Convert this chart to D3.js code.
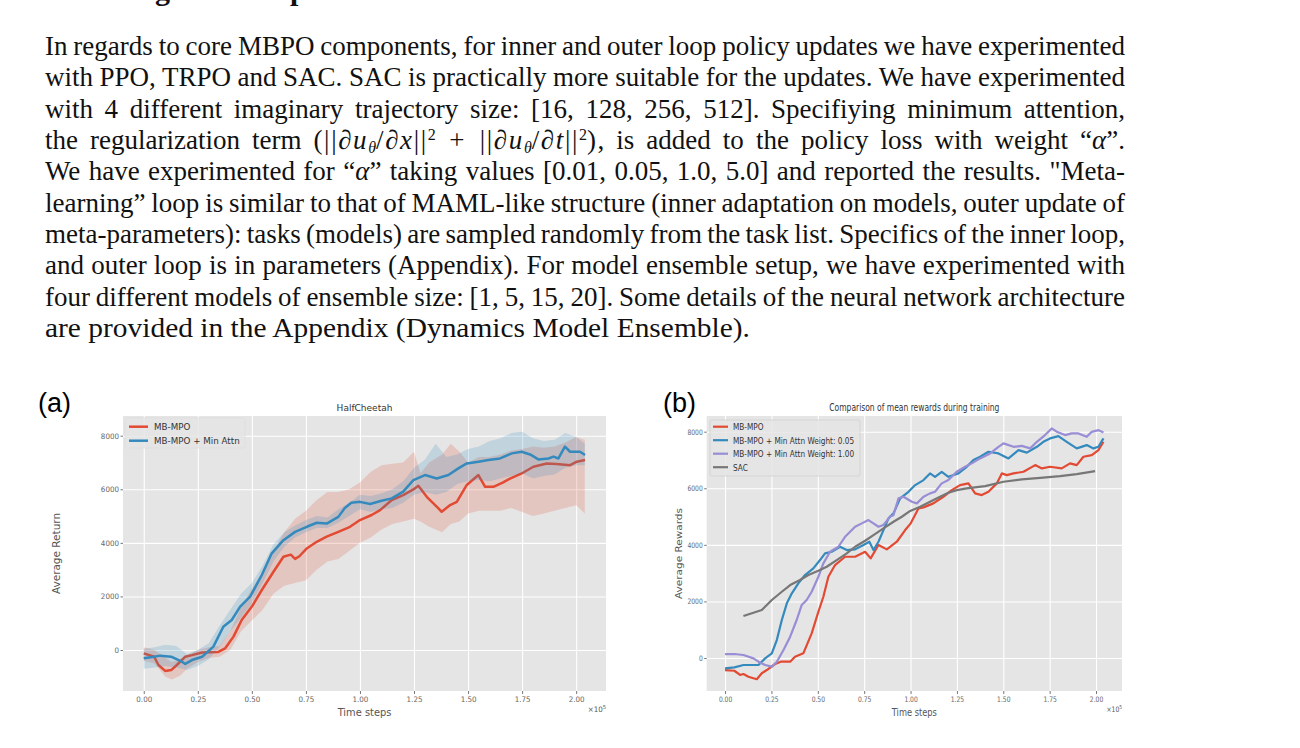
<!DOCTYPE html>
<html>
<head>
<meta charset="utf-8">
<script src="https://cdn.jsdelivr.net/npm/d3@7"></script>
<style>
  body { margin: 0; background: #fff; }
  svg { display: block; }
  .chart text { font-family: "DejaVu Sans", sans-serif; }
</style>
</head>
<body>
<svg id="page" width="1300" height="748"></svg>
<script>
// ---------- data ----------
var xTickVals = [0, 0.25, 0.5, 0.75, 1.0, 1.25, 1.5, 1.75, 2.0];
var yTickVals = [0, 2000, 4000, 6000, 8000];

// (a) HalfCheetah
var aRedX = [0, 0.048, 0.068, 0.099, 0.127, 0.153, 0.192, 0.223, 0.27, 0.345, 0.376, 0.415, 0.453, 0.5, 0.546, 0.6, 0.646, 0.68, 0.7, 0.72, 0.754, 0.8, 0.846, 0.9, 0.954, 1.0, 1.054, 1.093, 1.147, 1.2, 1.247, 1.27, 1.309, 1.363, 1.378, 1.417, 1.448, 1.494, 1.548, 1.579, 1.617, 1.66, 1.694, 1.748, 1.802, 1.864, 1.91, 1.972, 2.003, 2.041];
var aRedY = [-125, -250, -560, -780, -750, -560, -250, -190, -90, -70, 60, 500, 1120, 1620, 2240, 2920, 3480, 3560, 3400, 3500, 3790, 4040, 4230, 4410, 4600, 4850, 5040, 5220, 5600, 5780, 5995, 6130, 5720, 5290, 5160, 5410, 5530, 6160, 6530, 6090, 6090, 6250, 6400, 6590, 6840, 6965, 6940, 6900, 7030, 7090];
var aBlueX = [0, 0.048, 0.076, 0.127, 0.176, 0.192, 0.223, 0.27, 0.322, 0.368, 0.407, 0.446, 0.492, 0.546, 0.592, 0.646, 0.7, 0.754, 0.8, 0.846, 0.9, 0.93, 0.96, 1.0, 1.047, 1.1, 1.147, 1.2, 1.247, 1.301, 1.355, 1.409, 1.455, 1.494, 1.548, 1.594, 1.648, 1.702, 1.748, 1.787, 1.825, 1.872, 1.895, 1.918, 1.948, 1.972, 2.018, 2.041];
var aBlueY = [-310, -250, -210, -250, -435, -520, -375, -250, 125, 870, 1120, 1620, 1990, 2800, 3610, 4100, 4410, 4600, 4750, 4720, 4970, 5300, 5500, 5530, 5450, 5570, 5660, 5910, 6340, 6530, 6400, 6530, 6780, 6965, 7030, 7090, 7150, 7340, 7400, 7300, 7115, 7150, 7220, 7150, 7590, 7400, 7400, 7280];
var aRedBandX = [0, 0.05, 0.1, 0.13, 0.17, 0.2, 0.25, 0.3, 0.35, 0.4, 0.45, 0.5, 0.55, 0.6, 0.65, 0.7, 0.75, 0.8, 0.85, 0.9, 0.95, 1.0, 1.05, 1.1, 1.15, 1.2, 1.25, 1.28, 1.32, 1.38, 1.42, 1.46, 1.5, 1.55, 1.6, 1.65, 1.7, 1.75, 1.8, 1.85, 1.9, 1.95, 2.0, 2.04];
var aRedLo = [-400, -500, -1000, -1100, -950, -700, -450, -300, -250, 0, 700, 1100, 1500, 2100, 2400, 2500, 2600, 3000, 3300, 3400, 3700, 4000, 4200, 4500, 4700, 4800, 4900, 4800, 4600, 4400, 4700, 4800, 5100, 5200, 5200, 5200, 5300, 5150, 5000, 5100, 5200, 5300, 5400, 5100];
var aRedHi = [100, 0, -300, -450, -350, -200, 0, 100, 150, 700, 1600, 2300, 2900, 3700, 4400, 4900, 5200, 5600, 5900, 5900, 6000, 6250, 6650, 6900, 6950, 7000, 7400, 6600, 7000, 7300, 7700, 7400, 7000, 7200, 7200, 7300, 7450, 7500, 7600, 7550, 7600, 7750, 7950, 7850];
var aBlueBandX = [0, 0.05, 0.1, 0.15, 0.2, 0.25, 0.3, 0.35, 0.4, 0.45, 0.5, 0.55, 0.6, 0.65, 0.7, 0.75, 0.8, 0.85, 0.9, 0.95, 1.0, 1.05, 1.1, 1.15, 1.2, 1.25, 1.3, 1.35, 1.4, 1.45, 1.5, 1.55, 1.6, 1.65, 1.7, 1.75, 1.8, 1.85, 1.9, 1.95, 2.0, 2.04];
var aBlueLo = [-700, -650, -600, -650, -750, -600, -350, 100, 700, 1200, 1750, 2500, 3300, 3850, 4200, 4400, 4550, 4550, 4750, 5000, 5250, 5150, 5250, 5300, 5500, 5800, 5900, 5800, 5900, 6200, 6300, 6350, 6300, 6400, 6500, 6600, 6400, 6500, 6550, 6800, 6900, 6900];
var aBlueHi = [50, 100, 200, 150, -150, 0, 250, 900, 1500, 2100, 2500, 3150, 3950, 4400, 4650, 4850, 5000, 4950, 5250, 5500, 5800, 5750, 5850, 6000, 6300, 6800, 7100, 7700, 7200, 7300, 7500, 7600, 7800, 7900, 8100, 8150, 7900, 7800, 7850, 8100, 7950, 7700];
var aNames = ["MB-MPO", "MB-MPO + Min Attn"];

// (b) Comparison of mean rewards during training
var bRedX = [0, 0.05, 0.081, 0.099, 0.126, 0.171, 0.198, 0.225, 0.27, 0.3, 0.351, 0.377, 0.422, 0.467, 0.503, 0.53, 0.557, 0.593, 0.647, 0.701, 0.755, 0.785, 0.827, 0.872, 0.926, 0.971, 1.001, 1.043, 1.07, 1.123, 1.177, 1.222, 1.267, 1.312, 1.348, 1.384, 1.42, 1.465, 1.492, 1.519, 1.555, 1.609, 1.672, 1.708, 1.752, 1.815, 1.86, 1.896, 1.932, 1.977, 2.013, 2.04];
var bRedY = [-425, -450, -600, -565, -660, -750, -540, -425, -212, -130, -130, 46, 165, 873, 1636, 2166, 2873, 3286, 3580, 3580, 3756, 3522, 3993, 3840, 4110, 4523, 4760, 5290, 5325, 5466, 5700, 5936, 6113, 6173, 5820, 5760, 5876, 6173, 6526, 6466, 6526, 6583, 6820, 6703, 6760, 6703, 6880, 6820, 7113, 7173, 7350, 7643];
var bBlueX = [0, 0.05, 0.099, 0.153, 0.18, 0.216, 0.252, 0.279, 0.306, 0.333, 0.36, 0.395, 0.431, 0.476, 0.512, 0.539, 0.575, 0.62, 0.656, 0.701, 0.746, 0.778, 0.8, 0.827, 0.854, 0.881, 0.908, 0.944, 0.989, 1.025, 1.07, 1.105, 1.132, 1.168, 1.204, 1.258, 1.303, 1.339, 1.375, 1.42, 1.474, 1.528, 1.582, 1.627, 1.681, 1.716, 1.752, 1.797, 1.842, 1.896, 1.95, 1.986, 2.013, 2.04];
var bBlueY = [-365, -330, -247, -247, -247, -12, 165, 636, 1343, 1932, 2286, 2640, 2933, 3170, 3463, 3700, 3756, 3933, 3816, 3840, 3993, 4110, 3816, 4110, 4523, 4936, 5113, 5643, 5876, 6113, 6290, 6526, 6406, 6583, 6406, 6526, 6760, 6996, 7113, 7290, 7232, 7056, 7350, 7260, 7466, 7643, 7763, 7845, 7643, 7410, 7526, 7410, 7466, 7763];
var bPurpleX = [0, 0.05, 0.099, 0.153, 0.18, 0.216, 0.252, 0.279, 0.315, 0.351, 0.386, 0.413, 0.44, 0.467, 0.503, 0.53, 0.566, 0.611, 0.647, 0.701, 0.737, 0.773, 0.8, 0.827, 0.854, 0.89, 0.908, 0.935, 0.962, 1.007, 1.034, 1.07, 1.105, 1.132, 1.168, 1.204, 1.249, 1.294, 1.33, 1.375, 1.429, 1.474, 1.501, 1.555, 1.6, 1.645, 1.681, 1.725, 1.761, 1.788, 1.833, 1.869, 1.905, 1.95, 1.977, 2.013, 2.04];
var bPurpleY = [141, 141, 106, -12, -130, -247, -306, -130, 283, 753, 1343, 1873, 2050, 2343, 2873, 3346, 3756, 3933, 4286, 4640, 4760, 4876, 4760, 4640, 4700, 5000, 5050, 5643, 5700, 5523, 5466, 5700, 5820, 5876, 6173, 6290, 6583, 6760, 6880, 7056, 7232, 7466, 7586, 7466, 7500, 7410, 7643, 7880, 8116, 8000, 7880, 7940, 7940, 7820, 7996, 8056, 7970];
var bSacX = [0.099, 0.153, 0.198, 0.252, 0.306, 0.351, 0.404, 0.449, 0.503, 0.548, 0.602, 0.656, 0.701, 0.755, 0.8, 0.854, 0.908, 0.953, 0.998, 1.052, 1.105, 1.159, 1.204, 1.249, 1.303, 1.402, 1.501, 1.6, 1.699, 1.806, 1.896, 1.995];
var bSacY = [1484, 1600, 1696, 2050, 2343, 2580, 2756, 2933, 3085, 3226, 3463, 3700, 3933, 4145, 4346, 4583, 4816, 4993, 5200, 5346, 5523, 5700, 5841, 5936, 5996, 6078, 6230, 6314, 6371, 6430, 6501, 6607];
var bNames = ["MB-MPO", "MB-MPO + Min Attn Weight: 0.05", "MB-MPO + Min Attn Weight: 1.00", "SAC"];

// paragraph lines (segments: plain string, or {t, it, sub, sup, m})
var paraLines = [
    ["In regards to core MBPO components, for inner and outer loop policy updates we have experimented"],
    ["with PPO, TRPO and SAC. SAC is practically more suitable for the updates. We have experimented"],
    ["with 4 different imaginary trajectory size: [16, 128, 256, 512]. Specifiying minimum attention,"],
    ["the regularization term ", {t: "(||\u2202", m: 1}, {t: "u", it: 1, m: 1}, {t: "\u03b8", it: 1, sub: 1}, {t: "/\u2202", m: 1}, {t: "x", it: 1, m: 1}, {t: "||", m: 1}, {t: "2", sup: 1},
        {t: " + ||\u2202", m: 1}, {t: "u", it: 1, m: 1}, {t: "\u03b8", it: 1, sub: 1}, {t: "/\u2202", m: 1}, {t: "t", it: 1, m: 1}, {t: "||", m: 1}, {t: "2", sup: 1},
        {t: ")", m: 1}, ", is added to the policy loss with weight \u201c", {t: "\u03b1", it: 1}, "\u201d."],
    ["We have experimented for \u201c", {t: "\u03b1", it: 1}, "\u201d taking values [0.01, 0.05, 1.0, 5.0] and reported the results. \"Meta-"],
    ["learning\u201d loop is similar to that of MAML-like structure (inner adaptation on models, outer update of"],
    ["meta-parameters): tasks (models) are sampled randomly from the task list. Specifics of the inner loop,"],
    ["and outer loop is in parameters (Appendix). For model ensemble setup, we have experimented with"],
    ["four different models of ensemble size: [1, 5, 15, 20]. Some details of the neural network architecture"],
    ["are provided in the Appendix (Dynamics Model Ensemble)."]
];

var colors = { red: "#E24A33", blue: "#348ABD", purple: "#988ED5", gray: "#777777" };

var svg = d3.select("#page");

// ---------- paragraph ----------
var para = svg.append("g")
    .attr("font-family", "'Liberation Serif', 'Times New Roman', serif")
    .style("font-size", "27px")
    .attr("fill", "#111");

var lineEls = paraLines.map(function (segs, i) {
    var t = para.append("text").attr("x", 45).attr("y", 55 + i * 31.33);
    var shift = 0;
    segs.forEach(function (s) {
        var seg = typeof s === "string" ? { t: s } : s;
        var target = seg.sub ? 4 : (seg.sup ? -9 : 0);
        var ts = t.append("tspan").attr("dy", target - shift).text(seg.t);
        shift = target;
        if (seg.it) ts.style("font-style", "italic");
        if (seg.m) ts.style("letter-spacing", "1.6px");
        if (seg.sub || seg.sup) ts.style("font-size", "16px");
    });
    return t;
});

// justify full lines to 1080px, last line to about 705px
lineEls.forEach(function (t, i) {
    var w = t.node().getComputedTextLength();
    if (i === lineEls.length - 1) {
        var k = Math.max(0.92, Math.min(1.1, 705 / w));
        t.attr("transform", "translate(45,0) scale(" + k + ",1) translate(-45,0)");
        return;
    }
    var n = (t.node().textContent.match(/ /g) || []).length;
    var ws = (1080 - w) / n;
    if (ws < -2) {
        ws = -2;
        var k2 = 1080 / (w + ws * n);
        t.attr("transform", "translate(45,0) scale(" + k2 + ",1) translate(-45,0)");
    }
    t.style("word-spacing", ws + "px");
});

// cut-off section heading at the very top (only descenders visible)
var head = para.append("text").attr("y", -0.5)
    .style("font-weight", "bold").style("font-size", "30px")
    .text("Training and Setup");
head.attr("x", 155 - head.node().getSubStringLength(0, 7));

// ---------- charts ----------
function txt(g, x, y, str, size, sx, anchor, fill, rot) {
    return g.append("text")
        .attr("transform", "translate(" + x + "," + y + ") scale(" + sx + ",1)" + (rot ? " rotate(-90)" : ""))
        .attr("text-anchor", anchor)
        .style("font-size", size + "px")
        .attr("fill", fill)
        .text(str);
}

function drawChart(cfg) {
    var g = svg.append("g").attr("class", "chart");
    var x = d3.scaleLinear().domain(cfg.xDomain).range([cfg.left, cfg.right]);
    var y = d3.scaleLinear().domain(cfg.yDomain).range([cfg.bottom, cfg.top]);
    var h = cfg.bottom - cfg.top, w = cfg.right - cfg.left;
    var sx = cfg.sx;

    g.append("rect")
        .attr("x", cfg.left).attr("y", cfg.top)
        .attr("width", w).attr("height", h)
        .attr("fill", "#E5E5E5");

    // grid
    g.append("g")
        .attr("transform", "translate(0," + cfg.bottom + ")")
        .call(d3.axisBottom(x).tickValues(xTickVals).tickSize(-h).tickFormat(""))
        .call(function (s) { s.select(".domain").remove(); })
        .selectAll("line").attr("stroke", "#fff").attr("stroke-width", 1.1);
    g.append("g")
        .attr("transform", "translate(" + cfg.left + ",0)")
        .call(d3.axisLeft(y).tickValues(yTickVals).tickSize(-w).tickFormat(""))
        .call(function (s) { s.select(".domain").remove(); })
        .selectAll("line").attr("stroke", "#fff").attr("stroke-width", 1.1);

    var clipId = "clip" + cfg.id;
    g.append("clipPath").attr("id", clipId).append("rect")
        .attr("x", cfg.left).attr("y", cfg.top).attr("width", w).attr("height", h);
    var plot = g.append("g").attr("clip-path", "url(#" + clipId + ")");

    var area = d3.area().x(function (d) { return x(d[0]); })
        .y0(function (d) { return y(d[1]); }).y1(function (d) { return y(d[2]); });
    var line = d3.line().x(function (d) { return x(d[0]); }).y(function (d) { return y(d[1]); });

    cfg.series.forEach(function (s) {
        if (s.bandX) {
            plot.append("path")
                .datum(d3.zip(s.bandX, s.lo, s.hi))
                .attr("d", area)
                .attr("fill", s.color)
                .attr("fill-opacity", 0.2);
        }
        plot.append("path")
            .datum(d3.zip(s.xs, s.ys))
            .attr("d", line)
            .attr("fill", "none")
            .attr("stroke", s.color)
            .attr("stroke-width", cfg.lineWidth)
            .attr("stroke-linejoin", "round");
    });

    // axes
    var xa = g.append("g")
        .attr("transform", "translate(0," + cfg.bottom + ")")
        .call(d3.axisBottom(x).tickValues(xTickVals).tickFormat(d3.format(".2f")).tickSize(3).tickPadding(3));
    var ya = g.append("g")
        .attr("transform", "translate(" + cfg.left + ",0)")
        .call(d3.axisLeft(y).tickValues(yTickVals).tickFormat(d3.format("d")).tickSize(2.5).tickPadding(1.5));
    [xa, ya].forEach(function (a) {
        a.select(".domain").remove();
        a.selectAll("line").attr("stroke", "#777");
        a.selectAll("text").attr("fill", "#666").style("font-size", "7.6px");
    });
    xa.selectAll("text").attr("transform", "scale(" + sx + ",1)");
    ya.selectAll("text").attr("x", -4 / sx).attr("transform", "scale(" + sx + ",1)");

    // title and labels
    txt(g, (cfg.left + cfg.right) / 2, 410.5, cfg.title, 9.6, sx, "middle", "#333");
    txt(g, (cfg.left + cfg.right) / 2, 715.5, "Time steps", 10.5, sx, "middle", "#555");
    txt(g, cfg.ylabelX, (cfg.top + cfg.bottom) / 2, cfg.ylabel, 10.5, sx, "middle", "#555", true);
    var mult = txt(g, cfg.right, 712, "\u00d710", 7.6, sx, "end", "#555");
    mult.append("tspan").attr("dy", -3.5).style("font-size", "5.5px").text("5");

    // legend
    var lg = cfg.legend;
    g.append("rect")
        .attr("x", lg.x).attr("y", lg.y).attr("width", lg.w).attr("height", lg.h)
        .attr("rx", 2)
        .attr("fill", "#E5E5E5").attr("fill-opacity", 0.8)
        .attr("stroke", lg.edge).attr("stroke-width", 0.8);
    cfg.series.forEach(function (s, i) {
        var yy = lg.y0 + i * lg.dy;
        g.append("line")
            .attr("x1", lg.lx).attr("x2", lg.lx + lg.len)
            .attr("y1", yy).attr("y2", yy)
            .attr("stroke", s.color).attr("stroke-width", cfg.lineWidth);
        txt(g, lg.tx, yy + 3.3, cfg.names[i], 9.3, sx, "start", "#333");
    });

    // panel letter
    g.append("text")
        .attr("x", cfg.panelX).attr("y", 412)
        .style("font-family", "'Liberation Sans', Arial, sans-serif")
        .style("font-size", "27px")
        .attr("fill", "#000")
        .text(cfg.panel);
}

drawChart({
    id: "a", panel: "(a)", panelX: 38,
    left: 123, right: 606, top: 416, bottom: 691,
    xDomain: [-0.096, 2.138], yDomain: [-1530, 8735],
    sx: 0.94, lineWidth: 2.5,
    title: "HalfCheetah", ylabel: "Average Return", ylabelX: 60,
    names: aNames,
    legend: { x: 125, y: 418, w: 120, h: 30, lx: 129, len: 19, tx: 154, y0: 426.7, dy: 14, edge: "#dedede" },
    series: [
        { color: colors.red, xs: aRedX, ys: aRedY, bandX: aRedBandX, lo: aRedLo, hi: aRedHi },
        { color: colors.blue, xs: aBlueX, ys: aBlueY, bandX: aBlueBandX, lo: aBlueLo, hi: aBlueHi }
    ]
});

drawChart({
    id: "b", panel: "(b)", panelX: 663,
    left: 706.7, right: 1122, top: 416, bottom: 691,
    xDomain: [-0.099, 2.14], yDomain: [-1166, 8555],
    sx: 0.79, lineWidth: 2.2,
    title: "Comparison of mean rewards during training", ylabel: "Average Rewards", ylabelX: 682,
    names: bNames,
    legend: { x: 710, y: 420, w: 150, h: 56, lx: 713, len: 15, tx: 733, y0: 426.7, dy: 13.5, edge: "#d0d0d0" },
    series: [
        { color: colors.red, xs: bRedX, ys: bRedY },
        { color: colors.blue, xs: bBlueX, ys: bBlueY },
        { color: colors.purple, xs: bPurpleX, ys: bPurpleY },
        { color: colors.gray, xs: bSacX, ys: bSacY }
    ]
});
</script>
</body>
</html>
